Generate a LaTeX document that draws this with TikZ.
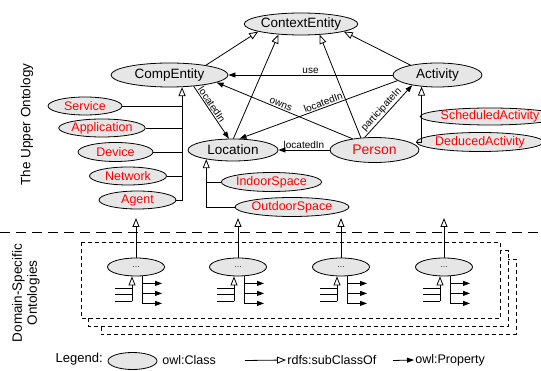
\documentclass[tikz,border=0pt]{standalone}
\usepackage{fontspec}
\setmainfont{Liberation Sans}
\usetikzlibrary{shapes.geometric,arrows.meta,calc}

\definecolor{classgray}{RGB}{230,230,230}

\begin{document}
\begin{tikzpicture}[
				x=1pt, y=-1pt,
				line width=0.8pt,
				cls/.style={ellipse, draw, fill=classgray, inner sep=0pt, font=\fontsize{13.5}{15}\selectfont},
				subcls/.style={cls, text=red, font=\fontsize{12.5}{14}\selectfont},
				domcls/.style={ellipse, draw, fill=classgray, minimum width=57pt, minimum height=18pt, inner sep=0pt, font=\fontsize{8}{9}\selectfont},
				isa/.style={-{Triangle[fill=white, length=9pt, width=7pt]}},
				prop/.style={-{Triangle[length=7pt, width=5pt]}},
				rel/.style={font=\fontsize{10}{11}\selectfont, inner sep=1pt},
				legfont/.style={font=\fontsize{12.5}{14}\selectfont, inner sep=1pt}
				]
				\useasboundingbox (0,0) rectangle (541,371);
				
				% Upper ontology classes
				\node[cls, minimum width=111pt, minimum height=22pt] (ctx) at (301,24) {ContextEntity};
				\node[cls, minimum width=117pt, minimum height=24pt] (comp) at (169.5,75) {CompEntity};
				\node[cls, minimum width=89pt, minimum height=24pt] (act) at (437.5,75) {Activity};
				\node[cls, minimum width=90pt, minimum height=22pt] (loc) at (233,150) {Location};
				\node[cls, text=red, minimum width=89pt, minimum height=25pt, font=\fontsize{14}{16}\selectfont] (per) at (374.5,150) {Person};
				
				% Subclasses
				\node[subcls, minimum width=74pt, minimum height=18pt] (service) at (85,106) {Service};
				\node[subcls, minimum width=76pt, minimum height=18pt] (application) at (102,128) {Application};
				\node[subcls, minimum width=75pt, minimum height=19pt] (device) at (115.5,152) {Device};
				\node[subcls, minimum width=77pt, minimum height=18pt] (network) at (128,176) {Network};
				\node[subcls, minimum width=77pt, minimum height=18pt] (agent) at (137.5,200) {Agent};
				\node[subcls, minimum width=97pt, minimum height=19pt] (indoor) at (271.5,182) {IndoorSpace};
				\node[subcls, minimum width=98pt, minimum height=19pt] (outdoor) at (292,207) {OutdoorSpace};
				\node[subcls, minimum width=110pt, minimum height=17pt] (scheduled) at (490,116.5) {ScheduledActivity};
				\node[subcls, minimum width=106pt, minimum height=19pt] (deduced) at (480,142) {DeducedActivity};
				
				% subClassOf ContextEntity
				\draw[isa] (comp.15) -- (ctx.190);
				\draw[isa] (loc.88) -- (ctx.205);
				\draw[isa] (per.138) -- (ctx.330);
				\draw[isa] (act.160) -- (ctx.350);
				
				% Properties
				\draw[prop] (act.west) -- node[rel, above] {use} (comp.east);
				\draw[prop] (per.153) -- node[rel, above, sloped, pos=0.54] {owns} (comp.351);
				\draw[prop] (comp.335) -- node[rel, above, sloped, pos=0.4] {locatedIn} (loc.110);
				\draw[prop] (act.188) -- node[rel, above, sloped, pos=0.46] {locatedIn} (loc.60);
				\draw[prop] (per.128) -- node[rel, above, sloped, pos=0.45] {participateIn} (act.202);
				\draw[prop] (per.west) -- node[rel, above] {locatedIn} (loc.east);
				
				% Subclass trees
				\coordinate (cbus) at (comp.316);
				\draw[isa] (agent.east) -| (cbus);
				\foreach \n in {service,application,device,network}
					\draw (\n.east) -- (\n.east -| cbus);
				\draw[isa] (outdoor.west) -| (loc.199);
				\draw (indoor.west) -- (indoor.west -| loc.199);
				\draw[isa] (deduced.west) -| (act.216);
				\draw (scheduled.west) -- (scheduled.west -| act.216);
				
				% Side labels
				\node[rotate=90, font=\fontsize{13.5}{15}\selectfont] (upper) at (27,124.5) {The Upper Ontology};
				\node[rotate=90, align=center, font=\fontsize{13.5}{15}\selectfont] (domain) at (26,293) {Domain-Specific\\Ontologies};
				
				% Separator
				\draw[dash pattern=on 10pt off 6pt] (0,232) -- (541,232);
				
				% Domain-specific boxes
				\draw[dash pattern=on 4pt off 3pt] (81,242.3) rectangle (500.7,318.3);
				\draw[dash pattern=on 4pt off 3pt] (88.3,318.3) -- (88.3,326.7) -- (508.3,326.7) -- (508.3,250.7) -- (500.7,250.7);
				\draw[dash pattern=on 4pt off 3pt] (101,326.7) -- (101,334.3) -- (516,334.3) -- (516,259.3) -- (508.3,259.3);
				
				% Domain-specific classes
				\foreach \x [count=\i] in {136,238,341,444}{
					\node[domcls] (dom\i) at (\x,267) {\dots};
					\coordinate (top\i) at (\x,218);
					\draw[isa] (dom\i) -- (top\i);
					\draw[isa] ($(dom\i.south)+(-4,25)$) -- ($(dom\i.south)+(-4,0)$);
					\foreach \dy in {12,18,25}
						\draw ($(dom\i.south)+(-21,\dy)$) -- ++(17,0);
					\draw ($(dom\i.south)+(6,0)$) -- ++(0,27);
					\foreach \dy in {7,17,27}
						\draw[prop] ($(dom\i.south)+(6,\dy)$) -- ++(20,0);
				}
				
				% Legend
				\node[anchor=west, font=\fontsize{13}{15}\selectfont] (legend) at (52,359) {Legend:};
				\node[cls, minimum width=49pt, minimum height=17pt] (lcls) at (132.5,361) {};
				\node[legfont, anchor=west] (lclstxt) at (161,360) {owl:Class};
				\coordinate (lsub) at (245,360.5);
				\node[legfont, anchor=west] (lsubtxt) at (286,360) {rdfs:subClassOf};
				\draw[isa] (lsub) -- (lsubtxt.west);
				\coordinate (lprop) at (393,360.5);
				\node[legfont, anchor=west] (lproptxt) at (414,360) {owl:Property};
				\draw[prop] (lprop) -- (lproptxt.west);
			\end{tikzpicture}
\end{document}
